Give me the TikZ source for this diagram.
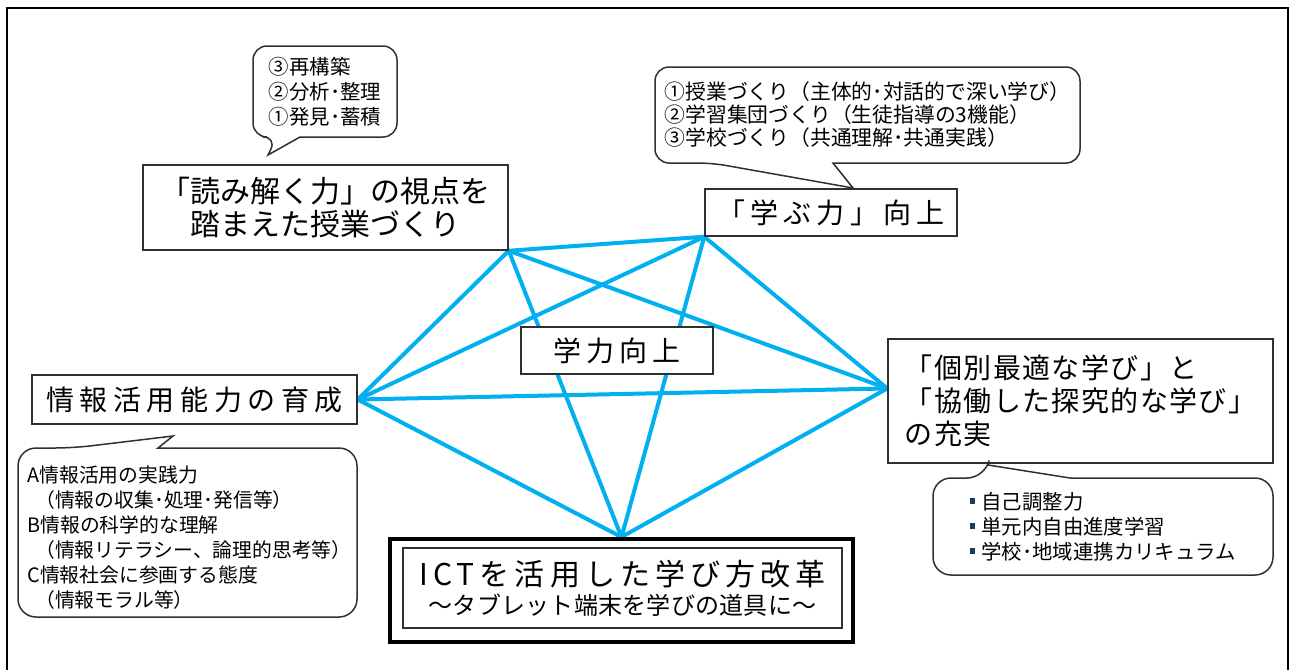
\documentclass[tikz,border=0pt]{standalone}
\usepackage{fontspec}
\setmainfont{Noto Sans CJK JP}
\usetikzlibrary{calc,backgrounds}
\definecolor{lineblue}{HTML}{00B0F0}
\definecolor{boxgray}{HTML}{303030}
\definecolor{bulletnavy}{HTML}{1F3864}
\newcommand{\blt}{{\color{bulletnavy}\rule[0.28em]{2.6pt}{2.6pt}}\hspace{3pt}}
\begin{document}
\begin{tikzpicture}[x=0.5pt,y=-0.5pt,
  box/.style={draw=boxgray, line width=0.75pt, fill=white, inner sep=0pt, text=black},
  calloutline/.style={draw=boxgray, line width=0.75pt, fill=white},
  callouttext/.style={inner sep=0pt, align=left, text=black, font=\fontsize{10.2pt}{12.5pt}\selectfont},
  link/.style={draw=lineblue, line width=2pt, line cap=round}]
\useasboundingbox (0,0) rectangle (1290,670);
\draw[line width=1pt] (7,670) -- (7,8) -- (1288,8) -- (1288,670);

% main boxes
\node[box, minimum width=182.5pt, minimum height=42.5pt, align=center,
  font=\fontsize{15pt}{16.5pt}\selectfont] (yomi) at (325.5,207.5)
  {「読み解く力」の視点を\\踏まえた授業づくり};
\node[box, minimum width=126pt, minimum height=23.5pt,
  font=\fontsize{14pt}{16.5pt}\selectfont\addfontfeature{LetterSpace=18}] (manabu) at (831,212.5)
  {「学ぶ力」向上};
\node[box, minimum width=96pt, minimum height=23.5pt,
  font=\fontsize{14pt}{16.5pt}\selectfont\addfontfeature{LetterSpace=18}] (gakuryoku) at (617,350.5)
  {学力向上};
\node[box, minimum width=162.5pt, minimum height=24.5pt,
  font=\fontsize{14pt}{16.5pt}\selectfont\addfontfeature{LetterSpace=20}] (joho) at (194.5,399.5)
  {情報活用能力の育成};
\node[box, minimum width=192.5pt, minimum height=62pt, align=left,
  font=\fontsize{14pt}{16.5pt}\selectfont\addfontfeature{LetterSpace=5}] (kobetsu) at (1080.5,401)
  {「個別最適な学び」と\\「協働した探究的な学び」\\の充実};
\node[box, line width=2pt, draw=black, minimum width=231.5pt, minimum height=51.5pt] (ictframe) at (621.5,590.5) {};
\node[box, minimum width=219.5pt, minimum height=40pt, align=center] (ict) at (622.5,588)
  {{\fontsize{15pt}{18pt}\selectfont\addfontfeature{LetterSpace=17}ICTを活用した学び方改革}\\[2.5pt]
   {\fontsize{12pt}{14pt}\selectfont\addfontfeature{LetterSpace=1}～タブレット端末を学びの道具に～}};

\coordinate (D) at ($(kobetsu.north west)!0.4!(kobetsu.south west)$);

% connectors
\begin{pgfonlayer}{background}
\draw[link] (yomi.south east) -- (manabu.south west);
\draw[link] (yomi.south east) -- (joho.east);
\draw[link] (yomi.south east) -- (D);
\draw[link] (yomi.south east) -- (ictframe.north);
\draw[link] (manabu.south west) -- (joho.east);
\draw[link] (manabu.south west) -- (D);
\draw[link] (manabu.south west) -- (ictframe.north);
\draw[link] (joho.east) -- (D);
\draw[link] (joho.east) -- (ictframe.north);
\draw[link] (D) -- (ictframe.north);
\end{pgfonlayer}

% callout 1
\draw[calloutline] (300,137) [rounded corners=7pt] -- (397,137) -- (397,46) -- (253,46) -- (253,137) -- (277,137) [sharp corners] -- (268,155) -- cycle;
\node[callouttext] (c1) at (325,91.5) {③再構築\\②分析･整理\\①発見･蓄積};

% callout 2
\draw[calloutline] (833,163) [rounded corners=7pt] -- (1080,163) -- (1080,67) -- (655,67) -- (655,163) -- (712,163) [sharp corners] -- (853,188) -- cycle;
\node[callouttext, font=\fontsize{10.4pt}{11.5pt}\selectfont] (c2) at (867.5,115)
  {①授業づくり（主体的･対話的で深い学び）\\②学習集団づくり（生徒指導の3機能）\\③学校づくり（共通理解･共通実践）};

% callout 3
\draw[calloutline] (158,448) [rounded corners=9pt] -- (357,448) -- (357,617) -- (18,617) -- (18,448) -- (73,448) [sharp corners] -- (173,436) -- cycle;
\node[callouttext, anchor=west, font=\fontsize{9.9pt}{12.5pt}\selectfont] (c3) at (27,537.5)
  {A情報活用の実践力\\\hspace{0.4em}（情報の収集･処理･発信等）\\B情報の科学的な理解\\\hspace{0.4em}（情報リテラシー、論理的思考等）\\C情報社会に参画する態度\\\hspace{0.4em}（情報モラル等）};

% callout 4
\draw[calloutline] (1070,478) [rounded corners=9pt] -- (1273,478) -- (1273,575) -- (933,575) -- (933,478) -- (985,478) [sharp corners] -- (988,465) -- cycle;
\node[callouttext] (c4) at (1103,526.5)
  {\blt 自己調整力\\\blt 単元内自由進度学習\\\blt 学校･地域連携カリキュラム};
\end{tikzpicture}
\end{document}
